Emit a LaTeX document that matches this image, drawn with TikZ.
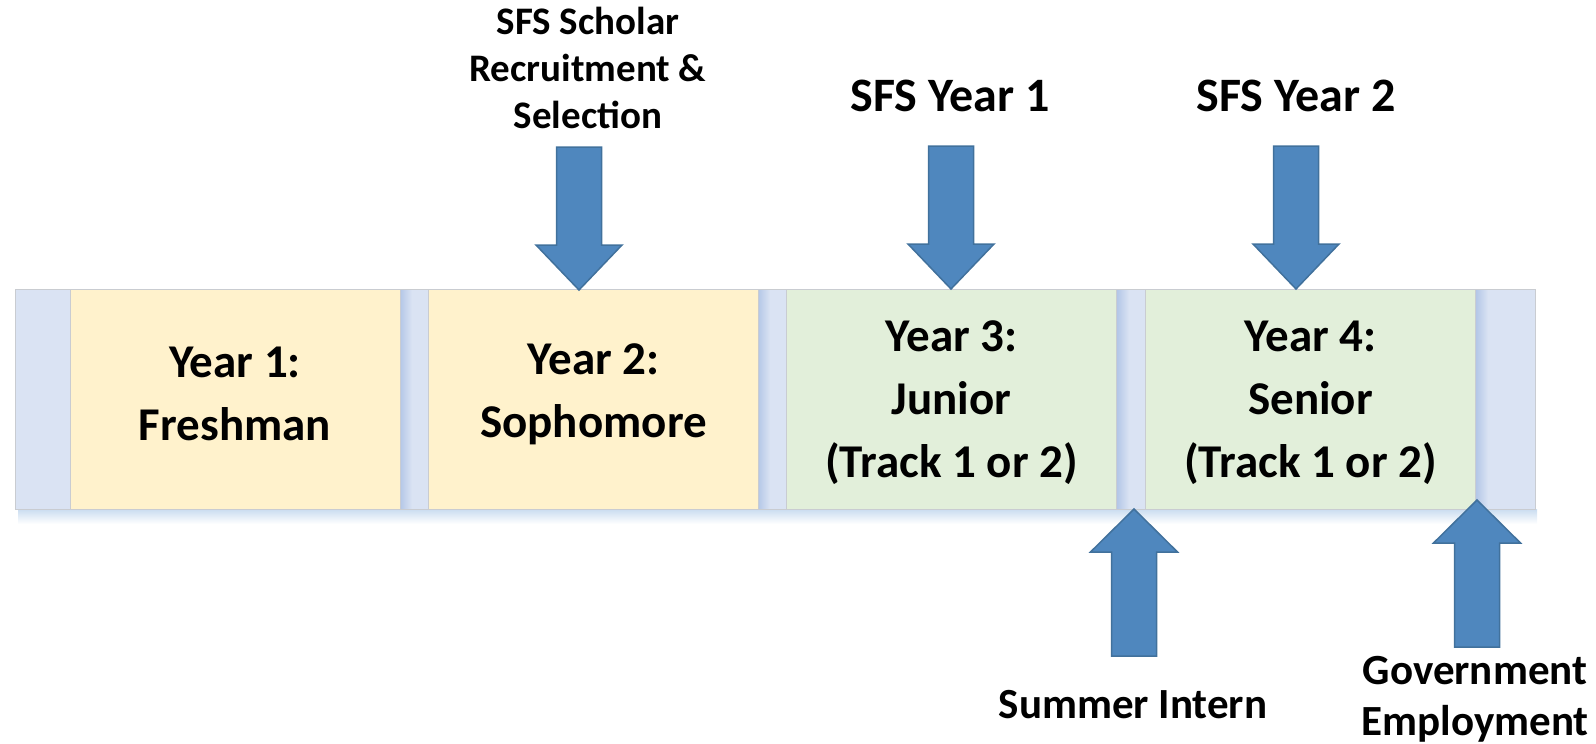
\documentclass[tikz,border=0pt]{standalone}
\usepackage{fontspec}
\setmainfont{Carlito}
\definecolor{stripc}{HTML}{DAE3F3}
\definecolor{stripd}{HTML}{B4C7E7}
\definecolor{yellowc}{HTML}{FFF2CC}
\definecolor{greenc}{HTML}{E2EFDA}
\definecolor{edgec}{HTML}{C9CCD1}
\definecolor{arrowc}{HTML}{4F87BE}
\definecolor{arrowb}{HTML}{41719C}
\definecolor{shadowc}{HTML}{C9DCF0}
\tikzset{
  stripbox/.style={fill=stripc, draw=edgec, line width=1pt},
  yearbox/.style={draw=edgec, line width=1pt, minimum width=330pt, minimum height=220pt,
    align=center, inner sep=0pt},
  yeartext/.style={align=center, inner sep=0pt, font=\fontsize{47}{63}\selectfont\bfseries},
  bigtitle/.style={align=center, inner sep=0pt, font=\fontsize{48}{58}\selectfont\bfseries},
  smalltitle/.style={align=center, inner sep=0pt, font=\fontsize{39}{47}\selectfont\bfseries},
  bottomtitle/.style={align=center, inner sep=0pt, font=\fontsize{43}{51}\selectfont\bfseries},
  arrowshape/.style={fill=arrowc, draw=arrowb, line width=1.5pt, line join=miter},
  down arrow/.pic={\draw[arrowshape] (-22.5,0) -- (22.5,0) -- (22.5,98) -- (43,98) -- (0,143)
      -- (-43,98) -- (-22.5,98) -- cycle;},
  up arrow/.pic={\draw[arrowshape] (-22.5,0) -- (22.5,0) -- (22.5,-104) -- (43.5,-104) -- (0,-147)
      -- (-43.5,-104) -- (-22.5,-104) -- cycle;}
}
\begin{document}
\begin{tikzpicture}[x=1pt,y=-1pt]
\useasboundingbox (0,0) rectangle (1596,744);
% shadow under strip
\shade[top color=shadowc, bottom color=white] (18,509) rectangle (1537,524);
% strip
\draw[stripbox] (15,289) rectangle (1535,509);
% soft shadows to the right of boxes
\foreach \xr in {400,758,1117,1476}{
  \shade[left color=stripd, right color=stripc] (\xr,290) rectangle (\xr+12,508);
}
% year boxes
\node[yearbox, fill=yellowc] (y1) at (235,399) {};
\node[yearbox, fill=yellowc] (y2) at (593.5,399) {};
\node[yearbox, fill=greenc]  (y3) at (951.5,399) {};
\node[yearbox, fill=greenc]  (y4) at (1310.5,399) {};
\node[yeartext] (t1) at ([yshift=5pt]y1.center) {Year 1:\\Freshman};
\node[yeartext] (t2) at ([yshift=5pt]y2.center) {Year 2:\\Sophomore};
\node[yeartext] (t3) at ([yshift=-4pt]y3.center) {Year 3:\\Junior\\(Track 1 or 2)};
\node[yeartext] (t4) at ([yshift=-4pt]y4.center) {Year 4:\\Senior\\(Track 1 or 2)};
% labels
\node[smalltitle] (rec) at (588,68) {SFS Scholar\\Recruitment \&\\Selection};
\node[bigtitle] (s1) at (950,96) {SFS Year 1};
\node[bigtitle] (s2) at (1296,96) {SFS Year 2};
\node[bottomtitle] (int) at (1133,705) {Summer Intern};
\node[bottomtitle] (gov) at (1475,699) {Government\\Employment};
% arrows
\coordinate (a1) at (579,147);
\coordinate (a2) at (951,146);
\coordinate (a3) at (1296,146);
\coordinate (b1) at (1134,656);
\coordinate (b2) at (1477,647);
\pic at (a1) {down arrow};
\pic at (a2) {down arrow};
\pic at (a3) {down arrow};
\pic at (b1) {up arrow};
\pic at (b2) {up arrow};
\end{tikzpicture}
\end{document}
